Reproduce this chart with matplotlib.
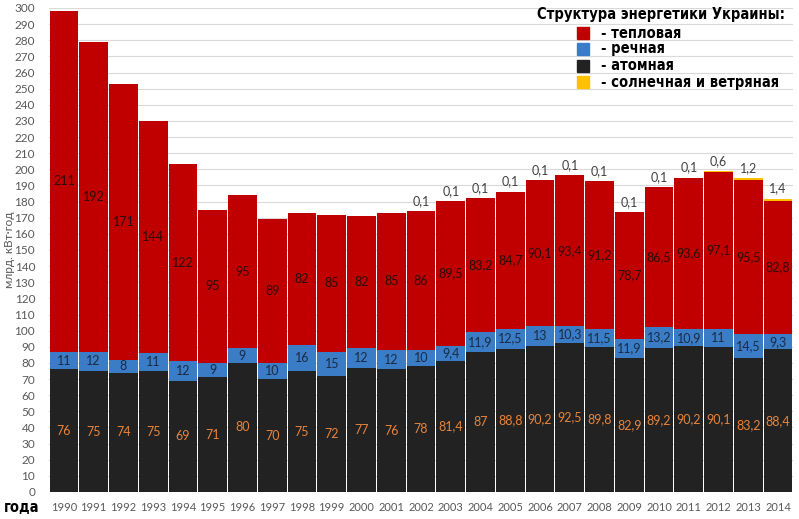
import numpy as np
import matplotlib
matplotlib.use('Agg')
import matplotlib.pyplot as plt
from matplotlib.patches import Rectangle

years = list(range(1990, 2015))
nuclear = [76, 75, 74, 75, 69, 71, 80, 70, 75, 72, 77, 76, 78, 81.4, 87, 88.8,
           90.2, 92.5, 89.8, 82.9, 89.2, 90.2, 90.1, 83.2, 88.4]
hydro = [11, 12, 8, 11, 12, 9, 9, 10, 16, 15, 12, 12, 10, 9.4, 11.9, 12.5,
         13, 10.3, 11.5, 11.9, 13.2, 10.9, 11, 14.5, 9.3]
thermal = [211, 192, 171, 144, 122, 95, 95, 89, 82, 85, 82, 85, 86, 89.5, 83.2, 84.7,
           90.1, 93.4, 91.2, 78.7, 86.5, 93.6, 97.1, 95.5, 82.8]
solar_wind = [0, 0, 0, 0, 0, 0, 0, 0, 0, 0, 0, 0, 0.1, 0.1, 0.1, 0.1,
              0.1, 0.1, 0.1, 0.1, 0.1, 0.1, 0.6, 1.2, 1.4]

legend_labels = ['- тепловая', '- речная', '- атомная', '- солнечная и ветряная']
colors = {'thermal': '#C00000', 'hydro': '#3A7DC6', 'nuclear': '#222222', 'sw': '#FFC000'}

plt.rcParams['font.family'] = ['Lato', 'DejaVu Sans']

def fmt(v):
    s = ('%g' % v)
    return s.replace('.', ',')

fig = plt.figure(figsize=(7.99, 5.19), dpi=100)
ax = fig.add_axes([49 / 799, 1 - 492 / 519, 744 / 799, 484 / 519])

x = np.arange(len(years))
nuc = np.array(nuclear)
hyd = np.array(hydro)
the = np.array(thermal)
sw = np.array(solar_wind)

w = 0.965
ax.bar(x, nuc, width=w, color=colors['nuclear'], zorder=2)
ax.bar(x, hyd, bottom=nuc, width=w, color=colors['hydro'], zorder=2)
ax.bar(x, the, bottom=nuc + hyd, width=w, color=colors['thermal'], zorder=2)
ax.bar(x, sw, bottom=nuc + hyd + the, width=w, color=colors['sw'], zorder=2)

for i in range(len(years)):
    ax.text(x[i], nuc[i] / 2, fmt(nuc[i]), ha='center', va='center',
            fontsize=9, color='#E8843A', zorder=3)
    ax.text(x[i], nuc[i] + hyd[i] / 2, fmt(hyd[i]), ha='center', va='center',
            fontsize=9, color='#1A2B45', zorder=3)
    ax.text(x[i], nuc[i] + hyd[i] + the[i] / 2, fmt(the[i]), ha='center', va='center',
            fontsize=9, color='#2A0A0A', zorder=3)
    if sw[i] > 0:
        ax.annotate(fmt(sw[i]), (x[i], nuc[i] + hyd[i] + the[i] + sw[i]),
                    xytext=(0, 3), textcoords='offset points', ha='center', va='bottom',
                    fontsize=9, color='#404040', zorder=3)

ax.set_xlim(-0.5, len(years) - 0.5)
ax.set_ylim(0, 300)
ax.set_yticks(np.arange(0, 301, 10))
ax.set_xticks(x)
ax.set_xticklabels([str(y) for y in years])
ax.tick_params(axis='both', length=0, labelsize=8.5, colors='#595959')
ax.tick_params(axis='y', pad=10)
ax.tick_params(axis='x', pad=7, labelsize=8)
ax.yaxis.grid(True, color='#D9D9D9', linewidth=0.8, zorder=0)
for s in ax.spines.values():
    s.set_visible(False)

ax.set_ylabel('млрд. кВт·год', fontsize=8.5, color='#595959')
ax.yaxis.set_label_coords(-34 / 744, 0.5)

cond = dict(family='DejaVu Sans', fontstretch='condensed', fontweight='bold')
fig.text(22 / 799, 1 - 507 / 519, 'года', fontsize=10.5, ha='center', va='center', **cond)

fig.text(785 / 799, 1 - 14 / 519, 'Структура энергетики Украины:', fontsize=10.5,
         ha='right', va='center', **cond)
leg_colors = [colors['thermal'], colors['hydro'], colors['nuclear'], colors['sw']]
rows = [33, 49, 66, 82]
for lab, c, yy in zip(legend_labels, leg_colors, rows):
    fig.patches.append(Rectangle((577 / 799, 1 - (yy + 6) / 519), 12 / 799, 12 / 519,
                                 transform=fig.transFigure, color=c, figure=fig))
    fig.text(601 / 799, 1 - yy / 519, lab, fontsize=10.5,
             ha='left', va='center', **cond)

fig.savefig('out.png', dpi=100)
